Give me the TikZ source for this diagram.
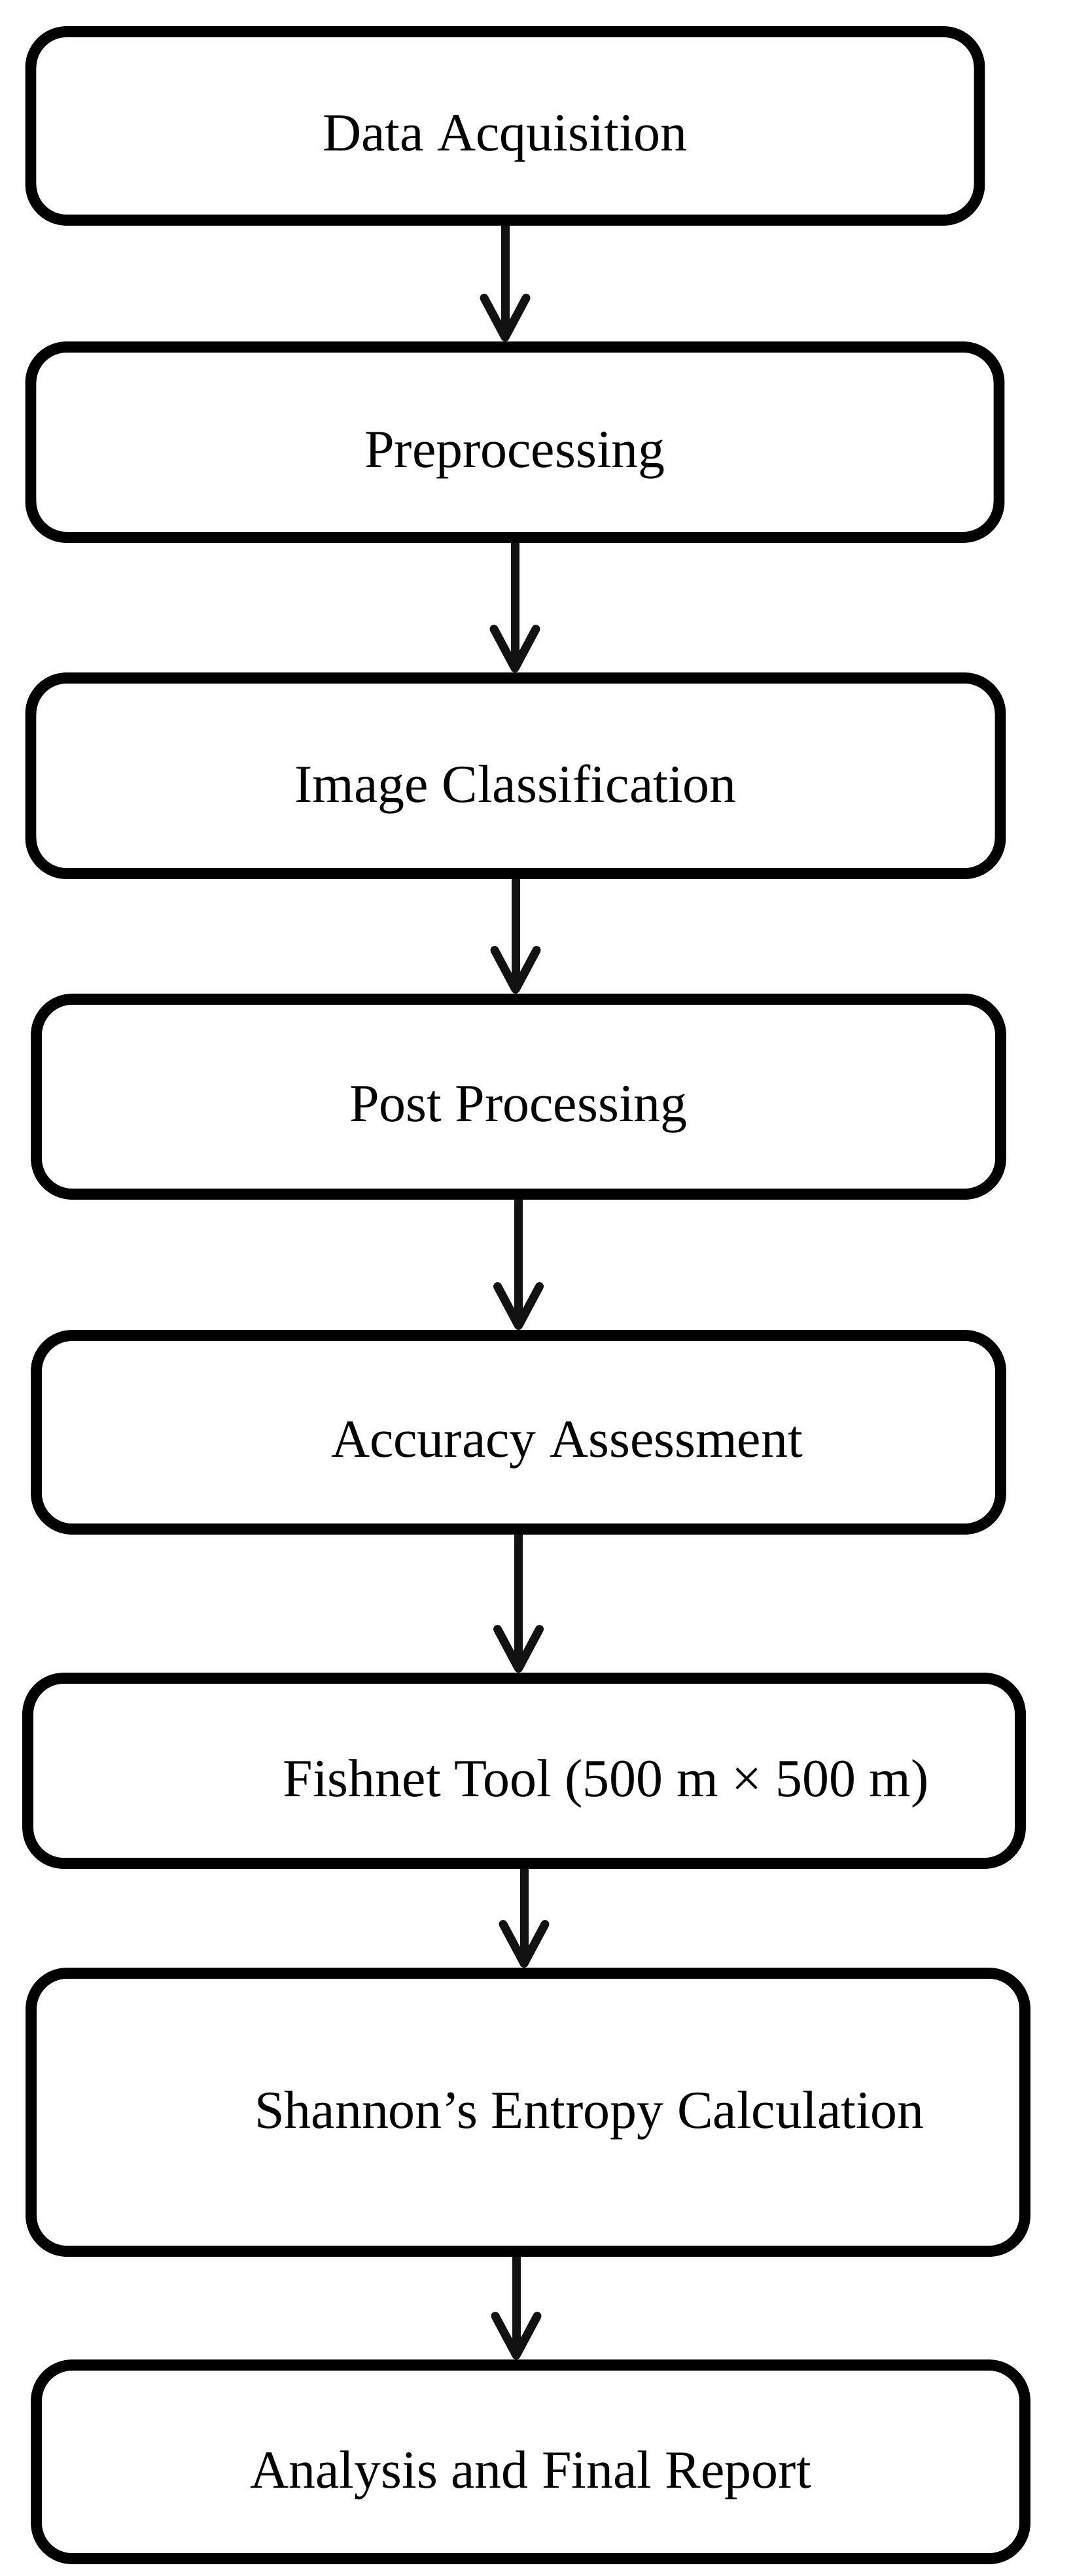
\documentclass[tikz,border=0pt]{standalone}
\usepackage{fontspec}
\setmainfont{Liberation Serif}
\usetikzlibrary{arrows.meta, positioning}

\tikzset{
  stage/.style={draw=black, line width=4.8pt, rounded corners=0.55cm, minimum height=2.95cm, inner sep=0pt},
  stagetext/.style={font=\fontsize{23.3}{27}\selectfont, yshift=-0.2cm},
  flow/.style={-{Straight Barb[length=0.6cm, width=0.64cm, round]}, line width=3.7pt, draw=black!93}
}

\begin{document}
\begin{tikzpicture}

\useasboundingbox (0,0) rectangle (16.39,-39.38);

% Stages
\node[stage, minimum width=14.5cm, minimum height=2.88cm] (acq) at (7.72,-1.925) {};
\node[stagetext] at (acq) {Data Acquisition};

\node[stage, minimum width=14.8cm, minimum height=2.91cm] (pre) at (7.87,-6.76) {};
\node[stagetext] at (pre) {Preprocessing};

\node[stage, minimum width=14.82cm, minimum height=2.99cm] (cls) at (7.88,-11.86) {};
\node[stagetext] at (cls) {Image Classification};

\node[stage, minimum width=14.74cm, minimum height=2.98cm] (post) at (7.925,-16.765) {};
\node[stagetext] at (post) {Post Processing};

\node[stage, minimum width=14.74cm, minimum height=2.96cm] (acc) at (7.925,-21.895) {};
\node[stagetext, xshift=0.74cm] at (acc) {Accuracy Assessment};

\node[stage, minimum width=15.17cm, minimum height=2.83cm] (fish) at (8.01,-27.07) {};
\node[stagetext, xshift=1.25cm] at (fish) {Fishnet Tool (500 m × 500 m)};

\node[stage, minimum width=15.19cm, minimum height=4.25cm] (ent) at (8.07,-32.29) {};
\node[stagetext, xshift=0.94cm, yshift=0.15cm] at (ent) {Shannon’s Entropy Calculation};

\node[stage, minimum width=15.11cm, minimum height=2.96cm] (rep) at (8.11,-37.635) {};
\node[stagetext] at (rep) {Analysis and Final Report};

% Flow arrows
\draw[flow] (acq.south) -- (acq.south |- pre.north);
\draw[flow] (pre.south) -- (pre.south |- cls.north);
\draw[flow] (cls.south) -- (cls.south |- post.north);
\draw[flow] (post.south) -- (post.south |- acc.north);
\draw[flow] (acc.south) -- (acc.south |- fish.north);
\draw[flow] (fish.south) -- (fish.south |- ent.north);
\draw[flow] ([xshift=-0.18cm]ent.south) -- ([xshift=-0.18cm]ent.south |- rep.north);

\end{tikzpicture}
\end{document}
